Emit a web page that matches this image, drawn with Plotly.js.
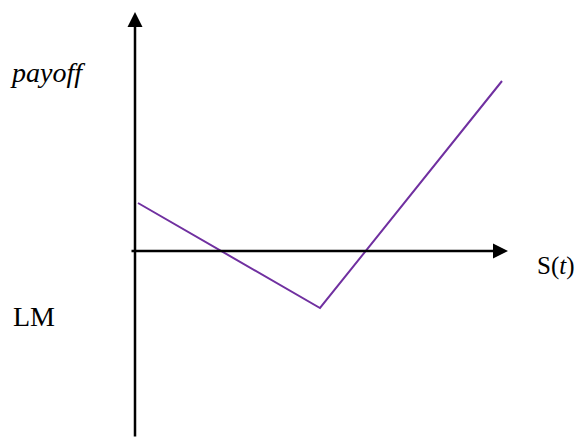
<!DOCTYPE html>
<html>
<head>
<meta charset="utf-8">
<script src="https://cdn.plot.ly/plotly-3.0.1.min.js"></script>
<style>html,body{margin:0;padding:0;background:#fff}#chart{width:576px;height:441px}</style>
</head>
<body>
<div id="chart"></div>
<script>
// Payoff diagram data (S(t) on x, payoff on y)
var stockPrice = [0.15, 9.25, 18.35];
var payoff = [2.4, -2.85, 8.5];

// Axis extents (arrow tails/heads)
var xAxisFrom = [-0.25, 0];
var xAxisTo = [18.65, 0];
var yAxisFrom = [0, -9.35];
var yAxisTo = [0, 11.95];

var serif = '"Liberation Serif", "Times New Roman", serif';

var traces = [{
  x: stockPrice,
  y: payoff,
  mode: 'lines',
  line: {color: '#7030A0', width: 2},
  hoverinfo: 'skip'
}];

var layout = {
  width: 576,
  height: 441,
  margin: {l: 0, r: 0, t: 0, b: 0},
  paper_bgcolor: '#fff',
  plot_bgcolor: '#fff',
  showlegend: false,
  xaxis: {range: [-6.75, 22.05], visible: false, fixedrange: true},
  yaxis: {range: [-9.5, 12.55], visible: false, fixedrange: true},
  annotations: [
    {x: xAxisTo[0], y: xAxisTo[1], ax: xAxisFrom[0], ay: xAxisFrom[1], xref: 'x', yref: 'y', axref: 'x', ayref: 'y',
     text: '', showarrow: true, arrowhead: 2, arrowsize: 1.2, arrowwidth: 2.5, arrowcolor: '#000', standoff: 0},
    {x: yAxisTo[0], y: yAxisTo[1], ax: yAxisFrom[0], ay: yAxisFrom[1], xref: 'x', yref: 'y', axref: 'x', ayref: 'y',
     text: '', showarrow: true, arrowhead: 2, arrowsize: 1.2, arrowwidth: 2.5, arrowcolor: '#000', standoff: 0},
    {x: -4.4, y: 8.95, xref: 'x', yref: 'y', text: '<i>payoff</i>', showarrow: false, font: {family: serif, size: 28, color: '#000'}},
    {x: -5.05, y: -3.25, xref: 'x', yref: 'y', text: 'LM', showarrow: false, font: {family: serif, size: 28, color: '#000'}},
    {x: 21.05, y: -0.75, xref: 'x', yref: 'y', text: 'S(<i>t</i>)', showarrow: false, font: {family: serif, size: 25, color: '#000'}}
  ]
};

Plotly.newPlot('chart', traces, layout, {staticPlot: true, displayModeBar: false});
</script>
</body>
</html>
